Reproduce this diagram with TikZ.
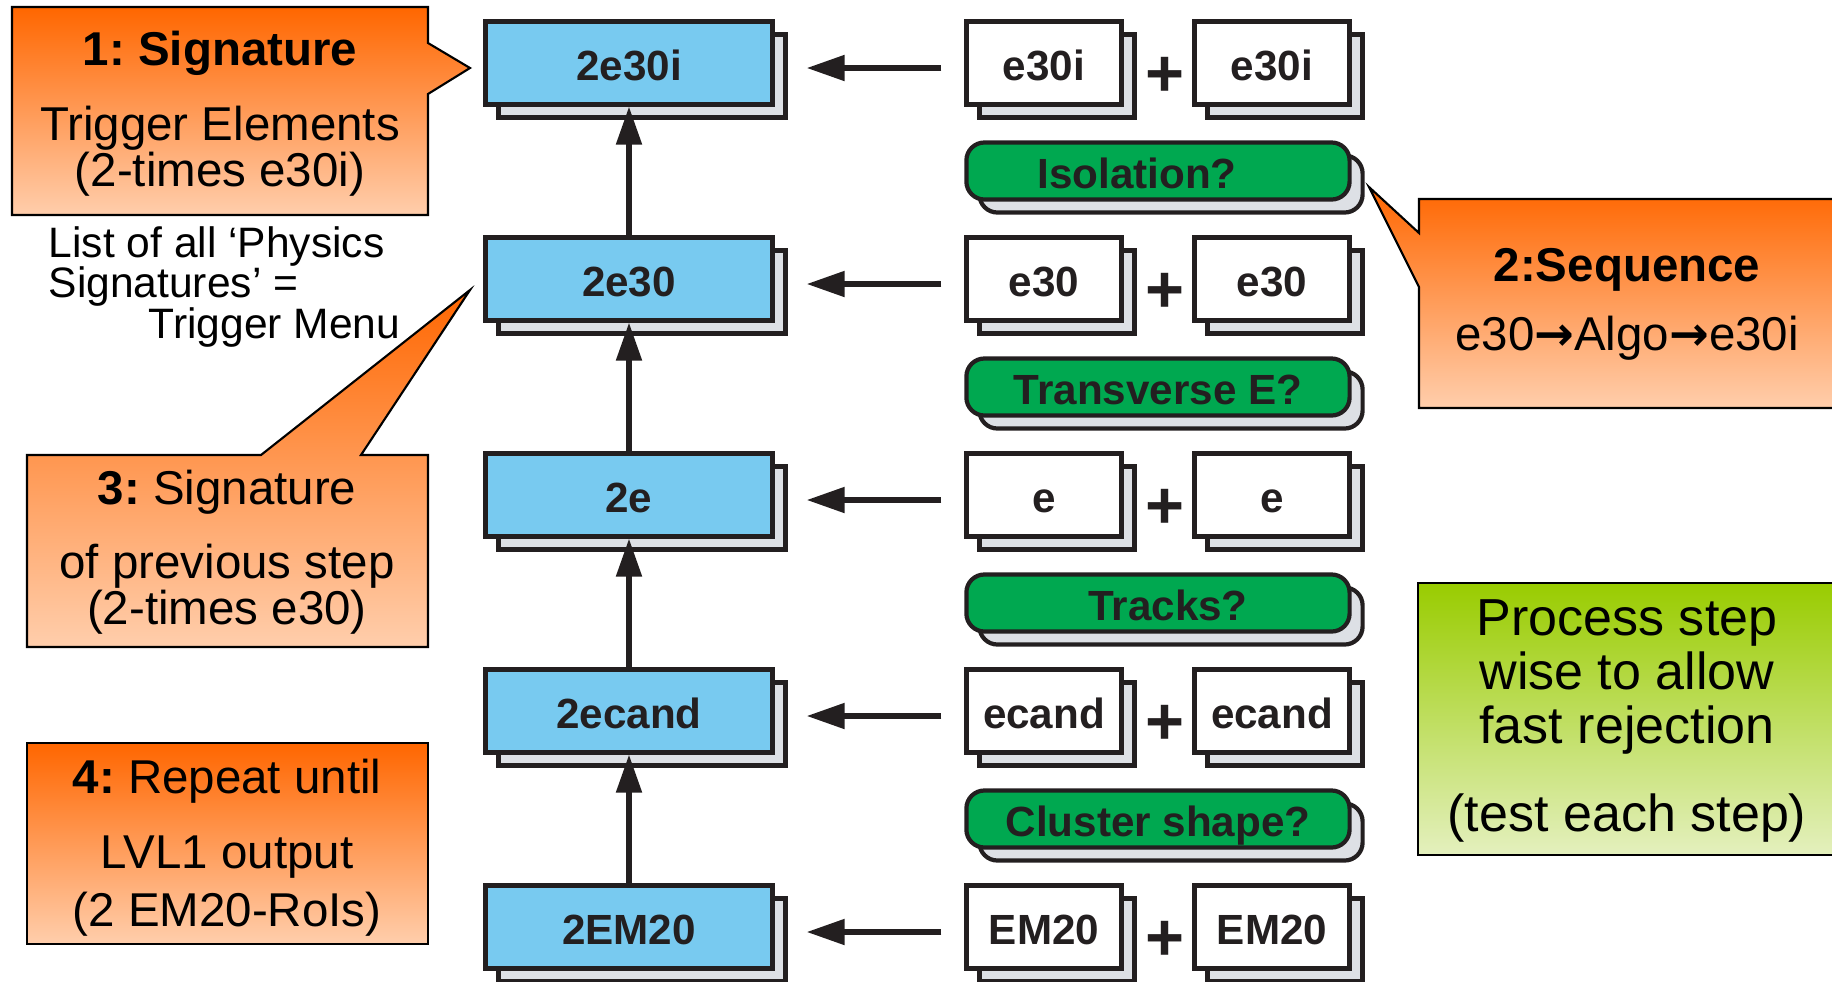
\documentclass[tikz,border=0pt]{standalone}
\usepackage{fontspec}
\setmainfont{Liberation Sans}
\newfontfamily\arrowfont{DejaVu Sans}
\usepackage{tikz}
\usetikzlibrary{arrows.meta, positioning, calc}
\definecolor{sigblue}{RGB}{120, 202, 240}
\definecolor{testgreen}{RGB}{0, 168, 80}
\definecolor{shadowgray}{RGB}{221, 224, 229}
\definecolor{linedark}{RGB}{35, 31, 32}
\definecolor{calloutorange}{RGB}{255, 102, 0}
\definecolor{calloutpeach}{RGB}{255, 206, 172}
\definecolor{notegreen}{RGB}{153, 204, 0}
\definecolor{notepale}{RGB}{228, 240, 190}
\frenchspacing

\begin{document}
\begin{tikzpicture}[x=0.01cm, y=-0.01cm,
    boxshadow/.style={preaction={draw=linedark, fill=shadowgray, transform canvas={shift={(0.13cm,-0.13cm)}}}},
    basebox/.style={boxshadow, draw=linedark, line width=1.2pt, inner sep=0pt, text=linedark,
        font=\fontsize{12}{14}\selectfont\bfseries, text height=10pt, text depth=0pt},
    sigbox/.style={basebox, fill=sigblue, minimum width=2.87cm, minimum height=0.83cm},
    elembox/.style={basebox, fill=white, minimum width=1.55cm, minimum height=0.83cm},
    testbox/.style={basebox, fill=testgreen, rounded corners=0.18cm, minimum width=3.83cm, minimum height=0.57cm},
    plus/.style={text=linedark, inner sep=0pt, font=\fontsize{19}{19}\selectfont\bfseries},
    arr/.style={draw=linedark, line width=1.5pt, -{Triangle[length=0.38cm, width=0.25cm]}},
    callout/.style={draw=black, line width=0.6pt, top color=calloutorange, bottom color=calloutpeach},
    calltext/.style={align=center, inner sep=0pt, font=\fontsize{13.5}{13}\selectfont}]

    \useasboundingbox (0,0) rectangle (1832,981);

    % Callouts
    \draw[callout] (12,7) -- (428,7) -- (428,43) -- (470,68) -- (428,94) -- (428,215) -- (12,215) -- cycle;
    \draw[callout] (27,455) -- (261,455) -- (470,290) -- (361,455) -- (428,455) -- (428,647) -- (27,647) -- cycle;
    \draw[callout] (27,743) rectangle (428,944);
    \draw[callout] (1419,199) -- (1840,199) -- (1840,408) -- (1419,408) -- (1419,287) -- (1369,187) -- (1419,233) -- cycle;
    \draw[draw=black, line width=0.6pt, top color=notegreen, bottom color=notepale] (1418,583) rectangle (1840,855);

    % Callout texts
    \node[calltext, anchor=north] (noteSig) at (220,30) {\textbf{1: Signature}\\[8.5pt] Trigger Elements\\ (2-times e30i)};
    \node[calltext, anchor=north west, align=left, font=\fontsize{12.1}{11.5}\selectfont] (noteList) at (48,226)
        {List of all ‘Physics\\ Signatures’ =\\ \hspace*{1cm}Trigger Menu};
    \node[calltext, anchor=north] (notePrev) at (227,469) {\textbf{3:} Signature\\[8.2pt] of previous step\\ (2-times e30)};
    \node[calltext, anchor=north] (noteRepeat) at (227,758) {\textbf{4:} Repeat until\\[8.5pt] LVL1 output\\[3.5pt] (2 EM20-RoIs)};
    \node[calltext, anchor=north] (noteSeq) at (1627,248) {\textbf{2:Sequence}\\[6.6pt] e30{\arrowfont\bfseries →}Algo{\arrowfont\bfseries →}e30i};
    \node[calltext, anchor=north, font=\fontsize{14.8}{15.4}\selectfont] (noteStep) at (1627,599)
        {Process step\\ wise to allow\\ fast rejection\\[9.6pt] (test each step)};

    % Signature boxes
    \node[sigbox] (sigE30i) at (629,63) {2e30i};
    \node[sigbox] (sigE30) at (629,279) {2e30};
    \node[sigbox] (sigE) at (629,495) {2e};
    \node[sigbox] (sigEcand) at (629,711) {2ecand};
    \node[sigbox] (sigEM) at (629,927) {2EM20};

    % Trigger elements
    \node[elembox] (e30iA) at (1044,63) {e30i};
    \node[elembox] (e30iB) at (1272,63) {e30i};
    \node[elembox] (e30A) at (1044,279) {e30};
    \node[elembox] (e30B) at (1272,279) {e30};
    \node[elembox] (eA) at (1044,495) {e};
    \node[elembox] (eB) at (1272,495) {e};
    \node[elembox] (ecandA) at (1044,711) {ecand};
    \node[elembox] (ecandB) at (1272,711) {ecand};
    \node[elembox] (emA) at (1044,927) {EM20};
    \node[elembox] (emB) at (1272,927) {EM20};

    % Plus signs
    \node[plus] (plusA) at (1165,77) {+};
    \node[plus] (plusB) at (1165,293) {+};
    \node[plus] (plusC) at (1165,509) {+};
    \node[plus] (plusD) at (1165,725) {+};
    \node[plus] (plusE) at (1165,941) {+};

    % Tests
    \node[testbox] (testIso) at (1158,171) {Isolation?\hspace*{0.42cm}};
    \node[testbox] (testEt) at (1158,387) {Transverse E?};
    \node[testbox] (testTrk) at (1158,603) {\hspace*{0.2cm}Tracks?};
    \node[testbox] (testShape) at (1158,819) {Cluster shape?};

    % Arrows
    \draw[arr, shorten <=0.23cm, shorten >=0.32cm] ([yshift=-0.05cm]e30iA.west) -- ([yshift=-0.05cm]sigE30i.east);
    \draw[arr, shorten <=0.23cm, shorten >=0.32cm] ([yshift=-0.05cm]e30A.west) -- ([yshift=-0.05cm]sigE30.east);
    \draw[arr, shorten <=0.23cm, shorten >=0.32cm] ([yshift=-0.05cm]eA.west) -- ([yshift=-0.05cm]sigE.east);
    \draw[arr, shorten <=0.23cm, shorten >=0.32cm] ([yshift=-0.05cm]ecandA.west) -- ([yshift=-0.05cm]sigEcand.east);
    \draw[arr, shorten <=0.23cm, shorten >=0.32cm] ([yshift=-0.05cm]emA.west) -- ([yshift=-0.05cm]sigEM.east);
    \draw[arr] (sigEM.north) -- (sigEcand.south);
    \draw[arr] (sigEcand.north) -- (sigE.south);
    \draw[arr] (sigE.north) -- (sigE30.south);
    \draw[arr] (sigE30.north) -- (sigE30i.south);
\end{tikzpicture}
\end{document}
